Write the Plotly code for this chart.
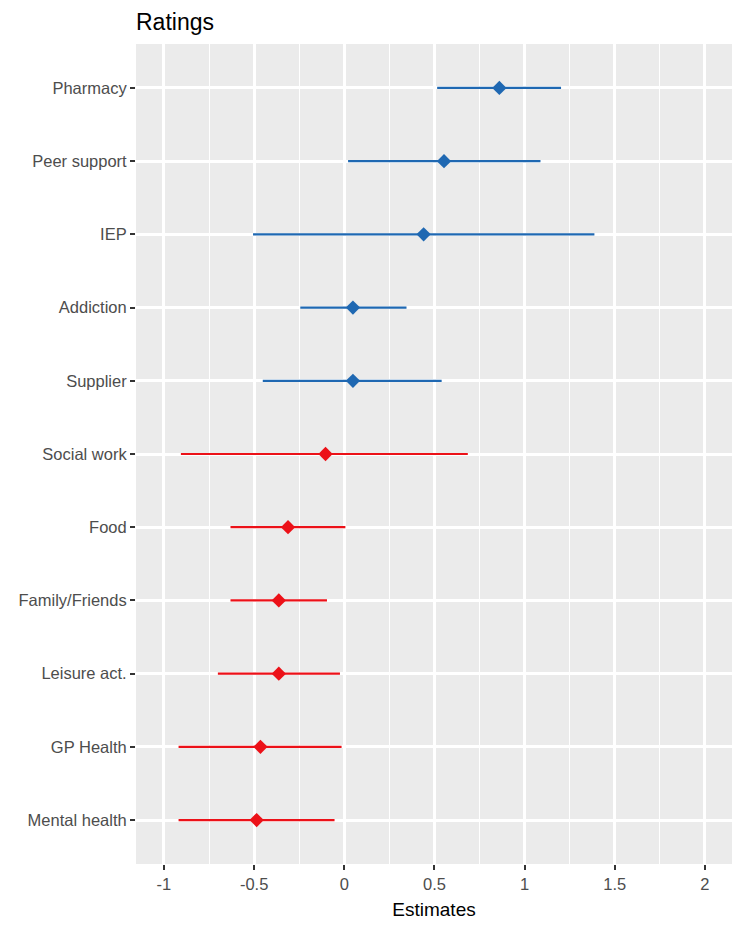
import plotly.graph_objects as go

labels = ["Pharmacy", "Peer support", "IEP", "Addiction", "Supplier", "Social work",
          "Food", "Family/Friends", "Leisure act.", "GP Health", "Mental health"]
estimates = [0.86, 0.553, 0.44, 0.048, 0.048, -0.104, -0.312, -0.363, -0.363, -0.465, -0.486]
lower = [0.515, 0.021, -0.506, -0.244, -0.452, -0.906, -0.631, -0.631, -0.701, -0.919, -0.919]
upper = [1.202, 1.088, 1.387, 0.345, 0.540, 0.685, 0.006, -0.096, -0.024, -0.015, -0.054]
groups = ["pos", "pos", "pos", "pos", "pos", "neg", "neg", "neg", "neg", "neg", "neg"]
group_colors = {"pos": "#1F68B2", "neg": "#EC1118"}
x_ticks = [-1, -0.5, 0, 0.5, 1, 1.5, 2]
x_ticklabels = ["-1", "-0.5", "0", "0.5", "1", "1.5", "2"]

fig = go.Figure()
for g in ["pos", "neg"]:
    idx = [i for i, gg in enumerate(groups) if gg == g]
    fig.add_trace(go.Scatter(
        x=[estimates[i] for i in idx],
        y=[labels[i] for i in idx],
        mode="markers",
        marker=dict(symbol="diamond", size=11, color=group_colors[g]),
        error_x=dict(
            type="data", symmetric=False,
            array=[upper[i] - estimates[i] for i in idx],
            arrayminus=[estimates[i] - lower[i] for i in idx],
            color=group_colors[g], thickness=2.2, width=0,
        ),
        showlegend=False,
    ))

W, H = 728, 914
fig.update_layout(
    width=W, height=H,
    margin=dict(l=128, r=4, t=36, b=58),
    paper_bgcolor="white", plot_bgcolor="#EBEBEB",
    font=dict(family="Liberation Sans, Arial, sans-serif", color="#4D4D4D", size=16),
    title=dict(text="Ratings", x=0, xref="paper", xanchor="left",
               y=1 - 14 / H, yref="container", yanchor="middle",
               font=dict(size=23, color="black")),
)
fig.update_xaxes(
    range=[-1.155, 2.150], tickvals=x_ticks, ticktext=x_ticklabels,
    showgrid=True, gridcolor="white", gridwidth=2.5,
    minor=dict(dtick=0.25, tick0=0, showgrid=True, gridcolor="white", gridwidth=1.3, ticks=""),
    ticks="outside", ticklen=5, tickwidth=1.5, tickcolor="#333333",
    zeroline=False, showline=False,
    tickfont=dict(size=16.5, color="#4D4D4D"),
    title=dict(text="Estimates", font=dict(size=19, color="black"), standoff=10),
)
fig.update_yaxes(
    categoryorder="array", categoryarray=labels[::-1],
    range=[-0.6, 10.6],
    showgrid=True, gridcolor="white", gridwidth=2.5,
    ticks="outside", ticklen=5, tickwidth=1.5, tickcolor="#333333",
    zeroline=False, showline=False,
    tickfont=dict(size=16.5, color="#4D4D4D"),
)

fig.write_html("out.html")
